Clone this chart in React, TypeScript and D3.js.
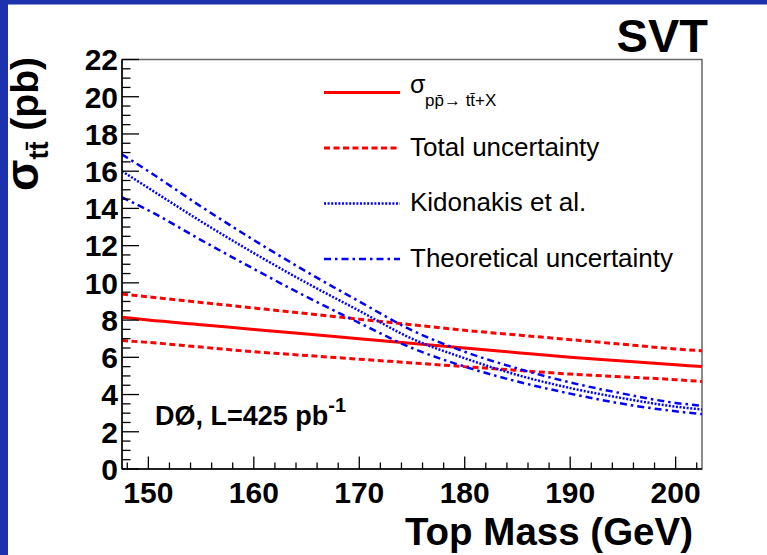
import React from "react";
import * as d3 from "d3";

const masses = [147.5, 150, 155, 160, 165, 170, 175, 180, 185, 190, 195, 200, 202.5];
const sigmaMeas = [8.15, 8.0, 7.75, 7.5, 7.25, 7.0, 6.75, 6.5, 6.25, 6.0, 5.8, 5.6, 5.5];
const totUp = [9.4, 9.25, 8.95, 8.65, 8.35, 8.05, 7.75, 7.45, 7.2, 6.95, 6.7, 6.45, 6.35];
const totDown = [6.9, 6.8, 6.55, 6.3, 6.1, 5.9, 5.7, 5.5, 5.3, 5.1, 4.95, 4.8, 4.7];
const kidonakis = [16.0, 15.1, 13.3, 11.6, 10.0, 8.5, 7.0, 5.95, 5.05, 4.35, 3.8, 3.35, 3.2];
const theoUp = [16.9, 16.0, 14.1, 12.3, 10.6, 9.0, 7.45, 6.3, 5.4, 4.65, 4.05, 3.55, 3.4];
const theoDown = [14.6, 13.9, 12.3, 10.75, 9.25, 7.85, 6.5, 5.5, 4.7, 4.05, 3.5, 3.1, 2.95];

const xMajor = [150, 160, 170, 180, 190, 200];
const yMajor = [0, 2, 4, 6, 8, 10, 12, 14, 16, 18, 20, 22];
const legendLabels = ["σ", "Total uncertainty", "Kidonakis et al.", "Theoretical uncertainty"];

const W = 767, H = 555;
const L = 122, R = 702, T = 59.5, B = 469;
const RED = "#ff0000";
const BLUE = "#0000ff";
const BG = "#1c31ad";

export default function App() {
  const x = d3.scaleLinear().domain([147.5, 202.5]).range([L, R]);
  const y = d3.scaleLinear().domain([0, 22]).range([B, T]);
  const xMinor = d3.range(148, 203, 2).filter((v) => v % 10 !== 0);
  const yMinor = d3.range(0, 22.01, 0.5).filter((v) => v % 2 !== 0);

  const mk = (vals: number[]) =>
    d3
      .line<number>()
      .x((_, i) => x(masses[i]))
      .y((v) => y(v))
      .curve(d3.curveMonotoneX)(vals) as string;

  const series = [
    { vals: sigmaMeas, color: RED, w: 3, dash: undefined as string | undefined },
    { vals: totUp, color: RED, w: 3, dash: "6 3.5" },
    { vals: totDown, color: RED, w: 3, dash: "6 3.5" },
    { vals: kidonakis, color: BLUE, w: 2.5, dash: "2 1.6" },
    { vals: theoUp, color: BLUE, w: 2.5, dash: "7 4 2.5 4" },
    { vals: theoDown, color: BLUE, w: 2.5, dash: "7 4 2.5 4" },
  ];

  const legendRows = [
    { y: 92.5, color: RED, w: 3, dash: undefined as string | undefined },
    { y: 148, color: RED, w: 3, dash: "6 3.5" },
    { y: 203.5, color: BLUE, w: 2.5, dash: "2 1.6" },
    { y: 259, color: BLUE, w: 2.5, dash: "7 4 2.5 4" },
  ];

  const font = "'Liberation Sans', Arial, Helvetica, sans-serif";

  return (
    <svg width={W} height={H} style={{ position: "absolute", left: 0, top: 0 }} fontFamily={font}>
      <rect x={0} y={0} width={W} height={H} fill="#ffffff" />
      <rect x={0} y={0} width={W} height={4.5} fill={BG} />
      <rect x={0} y={0} width={8} height={H} fill={BG} />

      <defs>
        <clipPath id="plot">
          <rect x={L} y={T} width={R - L} height={B - T} />
        </clipPath>
      </defs>

      {/* frame */}
      <rect x={L} y={T} width={R - L} height={B - T} fill="none" stroke="#666" strokeWidth={1.5} />

      {/* curves */}
      <g clipPath="url(#plot)">
        {series.map((s, i) => (
          <path key={i} d={mk(s.vals)} fill="none" stroke={s.color} strokeWidth={s.w} strokeDasharray={s.dash} />
        ))}
      </g>

      {/* axes */}
      <line x1={L} y1={T} x2={L} y2={B} stroke="#000" strokeWidth={1.5} />
      <line x1={L} y1={B} x2={R} y2={B} stroke="#000" strokeWidth={1.5} />
      {xMajor.map((v) => (
        <line key={"xM" + v} x1={x(v)} x2={x(v)} y1={B} y2={B - 12.5} stroke="#000" strokeWidth={1.3} />
      ))}
      {xMinor.map((v) => (
        <line key={"xm" + v} x1={x(v)} x2={x(v)} y1={B} y2={B - 6.5} stroke="#000" strokeWidth={1.3} />
      ))}
      {yMajor.map((v) => (
        <line key={"yM" + v} x1={L} x2={L + 17} y1={y(v)} y2={y(v)} stroke="#000" strokeWidth={1.3} />
      ))}
      {yMinor.map((v) => (
        <line key={"ym" + v} x1={L} x2={L + 8.5} y1={y(v)} y2={y(v)} stroke="#000" strokeWidth={1.3} />
      ))}

      {/* tick labels */}
      {xMajor.map((v) => (
        <text key={"xl" + v} x={x(v)} y={503} textAnchor="middle" fontSize={30} fontWeight="bold">
          {v}
        </text>
      ))}
      {yMajor.map((v) => (
        <text key={"yl" + v} x={118} y={y(v) + 10.8} textAnchor="end" fontSize={30} fontWeight="bold">
          {v}
        </text>
      ))}

      {/* axis titles */}
      <text x={693} y={545} textAnchor="end" fontSize={38.5} fontWeight="bold">
        Top Mass (GeV)
      </text>
      <g transform="translate(38,57) rotate(-90)">
        <text x={0} y={0} textAnchor="end" fontWeight="bold" fontSize={39}>
          <tspan fontSize={46}>σ</tspan>
          <tspan fontSize={27} dy={10}>tt̄</tspan>
          <tspan dy={-10}> (pb)</tspan>
        </text>
      </g>

      <text x={708} y={52} textAnchor="end" fontSize={47} fontWeight="bold">
        SVT
      </text>

      {/* legend */}
      {legendRows.map((r, i) => (
        <line key={"lg" + i} x1={324} x2={400} y1={r.y} y2={r.y} stroke={r.color} strokeWidth={r.w} strokeDasharray={r.dash} />
      ))}
      <text x={410} y={93} fontSize={25}>
        {legendLabels[0]}
      </text>
      <text x={425} y={106} fontSize={17}>
        pp̄→ tt̄+X
      </text>
      {legendLabels.slice(1).map((t, i) => (
        <text key={"lt" + i} x={410} y={legendRows[i + 1].y + 7.5} fontSize={26}>
          {t}
        </text>
      ))}

      <text x={155} y={425} fontSize={27} fontWeight="bold">
        DØ, L=425 pb
        <tspan fontSize={20} dy={-13}>-1</tspan>
      </text>
    </svg>
  );
}
